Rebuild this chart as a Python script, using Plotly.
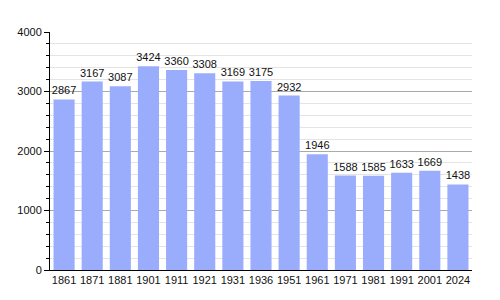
import plotly.graph_objects as go

years = ["1861", "1871", "1881", "1901", "1911", "1921", "1931", "1936", "1951",
         "1961", "1971", "1981", "1991", "2001", "2024"]
population = [2867, 3167, 3087, 3424, 3360, 3308, 3169, 3175, 2932,
              1946, 1588, 1585, 1633, 1669, 1438]

fig = go.Figure(go.Bar(
    x=years, y=population,
    marker=dict(color="#9aadfc", line=dict(width=0)),
    text=[str(v) for v in population],
    textposition="outside",
    textfont=dict(family="Liberation Sans, Arial", size=11, color="#111"),
    cliponaxis=False,
))

fig.update_layout(
    width=500, height=300,
    margin=dict(l=50, r=28, t=32, b=30),
    paper_bgcolor="white", plot_bgcolor="white",
    bargap=0.25,
    showlegend=False,
    font=dict(family="Liberation Sans, Arial", size=11, color="#111"),
    uniformtext=dict(minsize=11, mode="show"),
)
fig.update_xaxes(
    type="category",
    showline=True, linecolor="black", linewidth=1,
    showgrid=False, ticks="", tickfont=dict(size=11),
)
fig.update_yaxes(
    range=[0, 4000], tickvals=[0, 1000, 2000, 3000, 4000],
    showline=True, linecolor="black", linewidth=1,
    ticks="outside", ticklen=5, tickcolor="black",
    showgrid=True, gridcolor="#aaaaaa", gridwidth=1,
    zeroline=False,
    minor=dict(dtick=200, showgrid=True, gridcolor="#e4e4e4",
               ticks="outside", ticklen=3, tickcolor="black"),
    tickfont=dict(size=11),
)

fig.write_html("out.html")
